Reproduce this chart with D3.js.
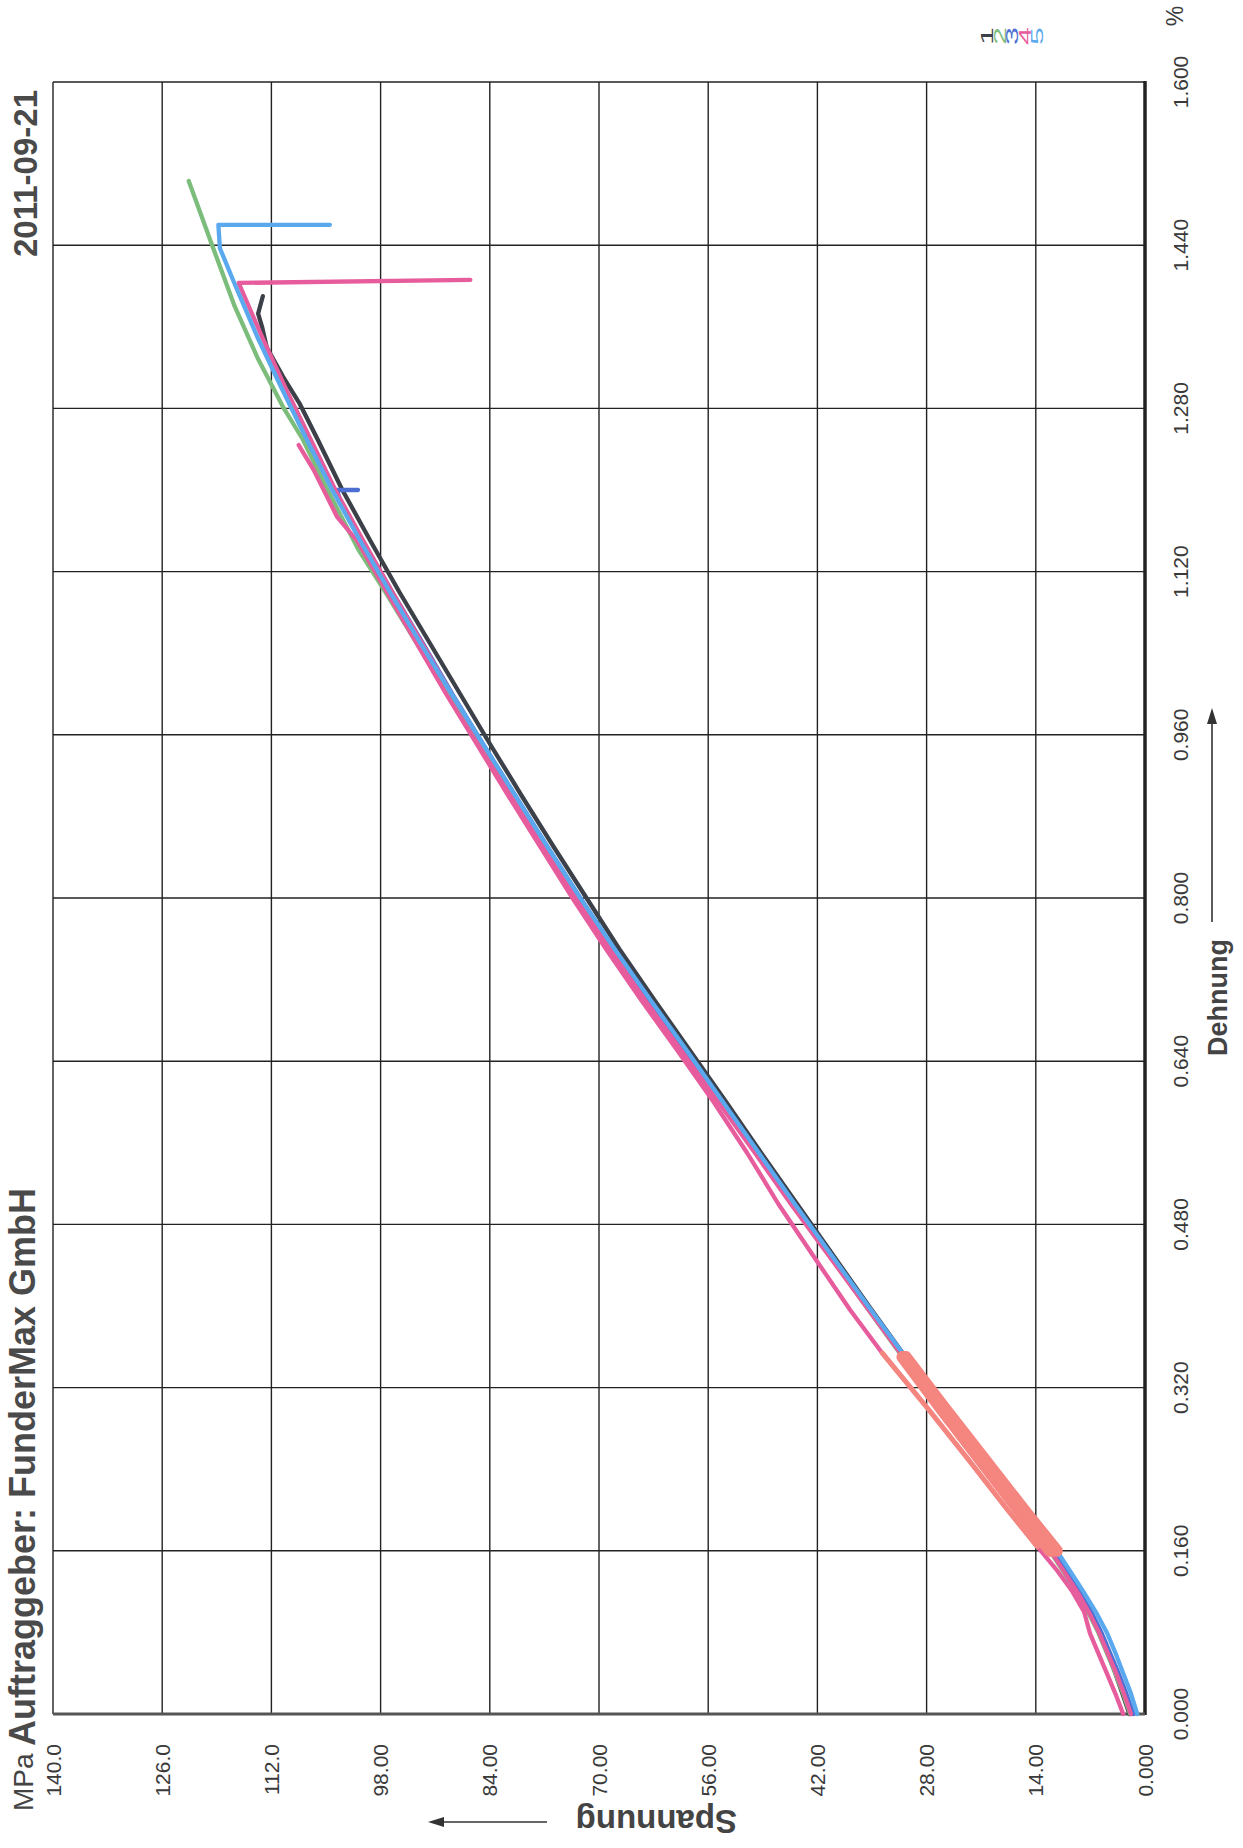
<!DOCTYPE html>
<html>
<head>
<meta charset="utf-8">
<script src="https://cdn.jsdelivr.net/npm/d3@7/dist/d3.min.js"></script>
<style>
  body { margin: 0; background: #fff; }
  svg { display: block; }
  text { font-family: "Liberation Sans", Arial, sans-serif; fill: #3a3a3a; }
</style>
</head>
<body>
<script>
// tick values and their printed labels
var stressTicks = [0, 14, 28, 42, 56, 70, 84, 98, 112, 126, 140];
var stressLabels = ["0.000", "14.00", "28.00", "42.00", "56.00", "70.00", "84.00", "98.00", "112.0", "126.0", "140.0"];
var strainTicks = [0, 0.16, 0.32, 0.48, 0.64, 0.8, 0.96, 1.12, 1.28, 1.44, 1.6];
var strainLabels = ["0.000", "0.160", "0.320", "0.480", "0.640", "0.800", "0.960", "1.120", "1.280", "1.440", "1.600"];

var specimens = ["1", "2", "3", "4", "5"];
var specColors = ["#3c4048", "#7cbd7c", "#4d6fd3", "#e65c9c", "#5aa9ee"];
var highlightColor = "#f4857f";
var highlightRange = [0.155, 0.355]; // strain range marked in salmon

// [strain %, stress MPa]
var curve1 = [[0, 2.0], [0.02, 2.9], [0.04, 3.8], [0.06, 4.8], [0.08, 5.8], [0.1, 7.1], [0.12, 8.6], [0.14, 10.3], [0.16, 11.9], [0.2, 15.9], [0.25, 20.9], [0.3, 25.8], [0.35, 30.7], [0.4, 35.4], [0.45, 40.0], [0.5, 44.6], [0.55, 49.2], [0.6, 53.7], [0.65, 58.3], [0.7, 62.9], [0.75, 67.4], [0.8, 71.6], [0.85, 75.8], [0.9, 79.9], [0.95, 83.9], [1.0, 87.8], [1.05, 91.7], [1.1, 95.6], [1.15, 99.3], [1.2, 102.9], [1.25, 106.1], [1.285, 108.4], [1.311, 110.5], [1.34, 112.6], [1.36, 113.2], [1.373, 113.7], [1.39, 113.1]];
var curve2 = [[0, 1.9], [0.02, 2.8], [0.04, 3.8], [0.06, 4.9], [0.08, 6.0], [0.1, 7.3], [0.12, 8.8], [0.14, 10.5], [0.16, 12.2], [0.2, 16.2], [0.25, 21.2], [0.3, 26.2], [0.35, 31.1], [0.4, 35.8], [0.45, 40.5], [0.5, 45.2], [0.55, 49.8], [0.6, 54.4], [0.65, 59.1], [0.7, 63.8], [0.75, 68.3], [0.8, 72.7], [0.85, 77.0], [0.9, 81.2], [0.95, 85.3], [1.0, 89.4], [1.05, 93.4], [1.1, 97.4], [1.141, 100.8], [1.2, 104.8], [1.25, 108.0], [1.28, 110.4], [1.33, 113.8], [1.38, 116.7], [1.44, 119.6], [1.48, 121.5], [1.503, 122.6]];
var curve3 = [[0, 1.5], [0.02, 2.4], [0.04, 3.4], [0.06, 4.5], [0.08, 5.6], [0.1, 6.9], [0.12, 8.4], [0.14, 10.1], [0.16, 11.8], [0.2, 15.8], [0.25, 20.9], [0.3, 25.9], [0.35, 30.9], [0.4, 35.6], [0.45, 40.3], [0.5, 45.0], [0.55, 49.6], [0.6, 54.2], [0.65, 58.9], [0.7, 63.6], [0.75, 68.1], [0.8, 72.4], [0.85, 76.6], [0.9, 80.7], [0.95, 84.8], [1.0, 88.8], [1.05, 92.6], [1.1, 96.5], [1.15, 100.3], [1.19, 103.2], [1.2, 103.6], [1.2, 100.9]];
var curve4 = [[0, 1.8], [0.02, 2.7], [0.04, 3.7], [0.06, 4.8], [0.08, 5.9], [0.1, 7.2], [0.12, 8.7], [0.14, 10.4], [0.16, 12.1], [0.2, 16.1], [0.25, 21.1], [0.3, 26.1], [0.35, 31.0], [0.4, 35.8], [0.45, 40.6], [0.5, 45.4], [0.55, 50.0], [0.6, 54.7], [0.65, 59.4], [0.7, 64.1], [0.75, 68.6], [0.8, 72.9], [0.85, 77.0], [0.9, 81.0], [0.95, 85.0], [1.0, 88.9], [1.05, 92.7], [1.1, 96.5], [1.15, 100.2], [1.2, 103.8], [1.25, 107.0], [1.3, 110.2], [1.35, 113.2], [1.403, 116.2], [1.406, 86.5]];
var curve5 = [[0, 1.0], [0.02, 1.8], [0.04, 2.8], [0.06, 3.8], [0.08, 4.9], [0.1, 6.3], [0.12, 7.9], [0.14, 9.6], [0.16, 11.3], [0.2, 15.5], [0.25, 20.6], [0.3, 25.7], [0.35, 30.7], [0.4, 35.5], [0.45, 40.2], [0.5, 44.9], [0.55, 49.5], [0.6, 54.1], [0.65, 58.7], [0.7, 63.4], [0.75, 68.0], [0.8, 72.4], [0.85, 76.6], [0.9, 80.7], [0.95, 84.8], [1.0, 88.9], [1.05, 92.9], [1.1, 96.8], [1.15, 100.6], [1.2, 104.2], [1.25, 107.5], [1.3, 110.7], [1.35, 113.8], [1.4, 116.6], [1.437, 118.6], [1.46, 118.8], [1.46, 104.5]];
// the pink trace that runs left of the bundle at low strain
var curve6 = [[0, 2.8], [0.02, 3.8], [0.04, 4.9], [0.06, 6.0], [0.079, 7.05], [0.1, 7.8], [0.12, 9.3], [0.14, 11.2], [0.164, 13.8], [0.2, 17.6], [0.25, 22.7], [0.3, 27.9], [0.354, 33.7], [0.396, 37.8], [0.45, 42.6], [0.5, 47.0], [0.55, 51.0], [0.6, 55.3], [0.65, 59.9], [0.7, 64.6], [0.75, 69.1], [0.8, 73.4], [0.85, 77.5], [0.9, 81.6], [0.95, 85.6], [1.0, 89.6], [1.05, 93.4], [1.1, 97.2], [1.15, 101.0], [1.174, 103.6], [1.22, 106.6], [1.244, 108.5]];

var curves = [
  { pts: curve1, color: specColors[0] },
  { pts: curve2, color: specColors[1] },
  { pts: curve3, color: specColors[2] },
  { pts: curve6, color: specColors[3] },
  { pts: curve4, color: specColors[3] },
  { pts: curve5, color: specColors[4] }
];

var width = 1243, height = 1848;
var svg = d3.select("body").append("svg")
  .attr("width", width)
  .attr("height", height);

// page is turned: stress runs right->left, strain runs bottom->top
var x = d3.scaleLinear().domain([0, 140]).range([1145, 53]);
var y = d3.scaleLinear().domain([0, 1.6]).range([1714, 82]);

// grid
var grid = svg.append("g");
grid.selectAll(".gx")
  .data(stressTicks)
  .enter()
  .append("line")
  .attr("x1", d => x(d)).attr("x2", d => x(d))
  .attr("y1", y(0)).attr("y2", y(1.6))
  .attr("stroke", "#222")
  .attr("stroke-width", 1.4);
grid.selectAll(".gy")
  .data(strainTicks)
  .enter()
  .append("line")
  .attr("x1", x(0)).attr("x2", x(140))
  .attr("y1", d => y(d)).attr("y2", d => y(d))
  .attr("stroke", "#222")
  .attr("stroke-width", 1.4);

// heavier axis edges
svg.append("line")
  .attr("x1", x(0)).attr("x2", x(0))
  .attr("y1", y(1.6) - 1).attr("y2", y(0) + 1)
  .attr("stroke", "#222").attr("stroke-width", 3.5);
svg.append("line")
  .attr("x1", x(140)).attr("x2", x(0))
  .attr("y1", y(0)).attr("y2", y(0))
  .attr("stroke", "#555").attr("stroke-width", 3);

// curves
var line = d3.line()
  .x(d => x(d[1]))
  .y(d => y(d[0]));

var plot = svg.append("g");
curves.forEach(c => {
  plot.append("path")
    .datum(c.pts)
    .attr("d", line)
    .attr("fill", "none")
    .attr("stroke", c.color)
    .attr("stroke-width", 4.3)
    .attr("stroke-linejoin", "round")
    .attr("stroke-linecap", "round");
});

// salmon marked range on every curve
curves.forEach((c, i) => {
  var seg = c.pts.filter(p => p[0] >= highlightRange[0] && p[0] <= highlightRange[1]);
  plot.append("path")
    .datum(seg)
    .attr("d", line)
    .attr("fill", "none")
    .attr("stroke", highlightColor)
    .attr("stroke-width", i == 3 ? 5 : 12)
    .attr("stroke-linejoin", "round")
    .attr("stroke-linecap", "round");
});

// stress tick labels (below the frame)
svg.selectAll(".sl")
  .data(stressTicks)
  .enter()
  .append("text")
  .attr("transform", d => "translate(" + (x(d) + 7.5) + ",1744) rotate(-90)")
  .attr("text-anchor", "end")
  .attr("font-size", 21)
  .text((d, i) => stressLabels[i]);

// strain tick labels (right of the frame)
svg.selectAll(".el")
  .data(strainTicks)
  .enter()
  .append("text")
  .attr("transform", d => "translate(1188," + y(d) + ") rotate(-90)")
  .attr("text-anchor", "middle")
  .attr("font-size", 21)
  .text((d, i) => strainLabels[i]);

svg.append("text")
  .attr("transform", "translate(1183,16) rotate(-90)")
  .attr("text-anchor", "middle")
  .attr("font-size", 23)
  .text("%");

// header column on the left
svg.append("text")
  .attr("transform", "translate(37,90) rotate(-90)")
  .attr("text-anchor", "end")
  .attr("font-size", 33)
  .attr("font-weight", "bold")
  .style("fill", "#4a4a4a")
  .text("2011-09-21");
svg.append("text")
  .attr("transform", "translate(33,1811) rotate(-90)")
  .attr("text-anchor", "start")
  .attr("font-size", 28)
  .style("fill", "#444")
  .text("MPa");
svg.append("text")
  .attr("transform", "translate(35,1746) rotate(-90)")
  .attr("text-anchor", "start")
  .attr("font-size", 36)
  .attr("font-weight", "bold")
  .style("fill", "#4a4a4a")
  .text("Auftraggeber: FunderMax GmbH");

// axis titles with arrows
svg.append("text")
  .attr("transform", "translate(1227,1056) rotate(-90)")
  .attr("text-anchor", "start")
  .attr("font-size", 27)
  .attr("font-weight", "bold")
  .style("fill", "#444")
  .text("Dehnung");
svg.append("line")
  .attr("x1", 1212).attr("x2", 1212)
  .attr("y1", 922).attr("y2", 722)
  .attr("stroke", "#333").attr("stroke-width", 1.6);
svg.append("path")
  .attr("d", "M1212,708 L1207,724 L1217,724 Z")
  .attr("fill", "#333");

svg.append("text")
  .attr("transform", "translate(737,1810) rotate(180)")
  .attr("text-anchor", "start")
  .attr("font-size", 33)
  .attr("font-weight", "bold")
  .style("fill", "#444")
  .text("Spannung");
svg.append("line")
  .attr("x1", 547).attr("x2", 440)
  .attr("y1", 1822).attr("y2", 1822)
  .attr("stroke", "#333").attr("stroke-width", 1.6);
svg.append("path")
  .attr("d", "M428,1822 L444,1817 L444,1827 Z")
  .attr("fill", "#333");

// specimen legend, top right (digits turned, stretched like the scan)
svg.selectAll(".lg")
  .data(specimens)
  .enter()
  .append("text")
  .attr("transform", (d, i) => "translate(" + (993 + i * 12.5) + ",36) rotate(-90) scale(1.9,1)")
  .attr("text-anchor", "middle")
  .attr("font-size", 17)
  .style("fill", (d, i) => specColors[i])
  .text(d => d);
</script>
</body>
</html>
